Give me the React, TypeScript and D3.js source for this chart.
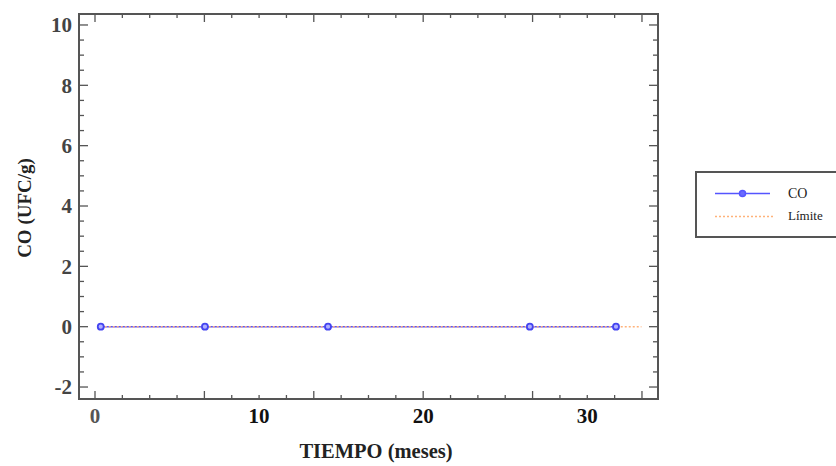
import React from "react";
import * as d3 from "d3";

const coTimes = [0.35, 6.7, 14.2, 26.5, 31.75];
const coValues = [0, 0, 0, 0, 0];
const limitTimes = [0.35, 33.3];
const limitValues = [0, 0];
const xTickLabels = [0, 10, 20, 30];
const yTickLabels = [-2, 0, 2, 4, 6, 8, 10];
const xMinorStep = 5 / 3;
const yMinorStep = 0.5;
const seriesNames = ["CO", "Límite"];

const W = 836, H = 466;
const L = 79, R = 658, T = 14, B = 399;

export default function App() {
  const x = d3.scaleLinear().domain([-0.975, 34.31]).range([L, R]);
  const y = d3.scaleLinear().domain([-2.397, 10.364]).range([B, T]);

  const xTicks = d3.range(0, 34.35, xMinorStep);
  const yTicks = d3.range(-2, 10.01, yMinorStep);

  const coLine = d3.line<number>().x((_, i) => x(coTimes[i])).y((d) => y(d));
  const limLine = d3.line<number>().x((_, i) => x(limitTimes[i])).y((d) => y(d));

  const blue = "#5555ff";
  const orange = "#ffb27a";
  const axisColor = "#555";

  return (
    <svg width={W} height={H} style={{ position: "absolute", left: 0, top: 0, background: "#fff" }}>
      {/* ticks */}
      {xTicks.map((t, i) => {
        const major = i % 4 === 0;
        const len = major ? 8 : 4;
        return (
          <g key={"xt" + i} stroke={axisColor} strokeWidth={1.3}>
            <line x1={x(t)} x2={x(t)} y1={B} y2={B - len} />
            <line x1={x(t)} x2={x(t)} y1={T} y2={T + len} />
          </g>
        );
      })}
      {yTicks.map((t, i) => {
        const major = i % 4 === 0;
        const len = major ? 9 : 5;
        return (
          <g key={"yt" + i} stroke={axisColor} strokeWidth={1.3}>
            <line x1={L} x2={L + len} y1={y(t)} y2={y(t)} />
            <line x1={R} x2={R - len} y1={y(t)} y2={y(t)} />
          </g>
        );
      })}
      {/* frame */}
      <rect x={L} y={T} width={R - L} height={B - T} fill="none" stroke={axisColor} strokeWidth={2} />

      {/* data */}
      <path d={coLine(coValues) || ""} fill="none" stroke={blue} strokeWidth={1.5} />
      <path d={limLine(limitValues) || ""} fill="none" stroke={orange} strokeWidth={1.6} strokeDasharray="2,2" />
      {coValues.map((v, i) => (
        <circle key={"m" + i} cx={x(coTimes[i])} cy={y(v)} r={3} fill="#b0b0ff" stroke="#4444f0" strokeWidth={1.8} />
      ))}

      {/* tick labels */}
      {xTickLabels.map((t) => (
        <text key={"xl" + t} x={x(t)} y={423} textAnchor="middle" fontFamily="'Liberation Serif', serif"
          fontWeight="bold" fontSize={21} fill={t === 0 ? "#555" : "#111"}>{t}</text>
      ))}
      {yTickLabels.map((t) => (
        <text key={"yl" + t} x={72} y={y(t)} dy="0.35em" textAnchor="end" fontFamily="'Liberation Serif', serif"
          fontWeight="bold" fontSize={21} fill="#444">{t}</text>
      ))}

      {/* axis titles */}
      <text x={376} y={458} textAnchor="middle" fontFamily="'Liberation Serif', serif" fontWeight="bold"
        fontSize={20.5} fill="#222">TIEMPO (meses)</text>
      <text transform={`translate(31,208) rotate(-90)`} textAnchor="middle" fontFamily="'Liberation Serif', serif"
        fontWeight="bold" fontSize={19} fill="#222">CO (UFC/g)</text>

      {/* legend */}
      <rect x={696} y={172} width={150} height={65} fill="#fff" stroke="#555" strokeWidth={2} />
      <line x1={715} x2={770} y1={193.5} y2={193.5} stroke={blue} strokeWidth={1.6} />
      <circle cx={742.5} cy={193.5} r={3} fill="#6a6aff" stroke={blue} strokeWidth={1.5} />
      <line x1={715} x2={773} y1={216.5} y2={216.5} stroke={orange} strokeWidth={1.6} strokeDasharray="2,2" />
      <text x={788} y={198} fontFamily="'Liberation Serif', serif" fontSize={14} fill="#222">{seriesNames[0]}</text>
      <text x={788} y={220} fontFamily="'Liberation Serif', serif" fontSize={13} fill="#222">{seriesNames[1]}</text>
    </svg>
  );
}
